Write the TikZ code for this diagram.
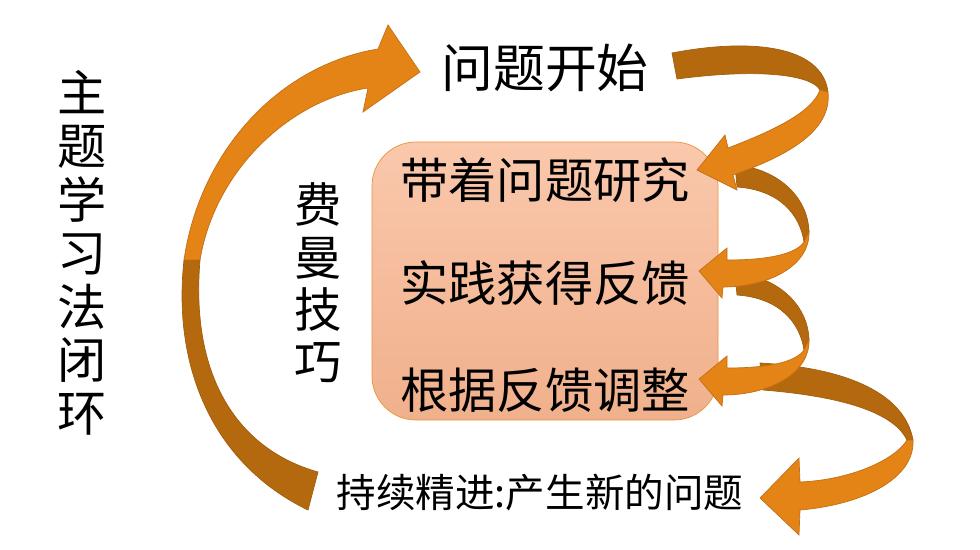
\documentclass[tikz,border=0pt]{standalone}
\usepackage{fontspec}
\setmainfont{Noto Sans CJK SC}
\usetikzlibrary{positioning}
\definecolor{ribbonfront}{RGB}{228,131,22}
\definecolor{ribbonback}{RGB}{180,105,15}
\definecolor{ribbonline}{RGB}{196,112,20}
\definecolor{boxtop}{RGB}{250,200,172}
\definecolor{boxbottom}{RGB}{240,176,140}
\definecolor{boxline}{RGB}{236,146,60}

\tikzset{
  frontband/.style={fill=ribbonfront,draw=ribbonline,line width=0.4pt},
  backband/.style={fill=ribbonback,draw=ribbonback!90!black,line width=0.4pt},
  bigtext/.style={font=\fontsize{27.5}{30}\selectfont},
  tallword/.style={align=center,font=\fontsize{28}{30.4}\selectfont},
}

% one turn of the small loop arrows on the right
\newcommand{\loopdark}[1]{%
  \fill[backband,yshift=#1] (735,165) .. controls (775,168) and (808,195) .. (809,232)
    -- (804,242) .. controls (800,215) and (780,190) .. (737,187) -- cycle;}
\newcommand{\looplight}[1]{%
  \fill[frontband,yshift=#1] (809,232) .. controls (810,265) and (770,287) .. (723,287)
    -- (722,298) -- (699,271) -- (727,248) -- (727,260)
    .. controls (765,260) and (795,255) .. (804,242) -- cycle;}

\begin{document}
\begin{tikzpicture}[x=0.02cm,y=-0.02cm]
\useasboundingbox (0,0) rectangle (980,550);

\node[tallword] (title) at (82,253) {主\\题\\学\\习\\法\\闭\\环};
\node[tallword,font=\fontsize{27}{29.8}\selectfont] (feynman) at (318,283) {费\\曼\\技\\巧};
\node[bigtext,font=\fontsize{29.5}{32}\selectfont] (start) at (545,68) {问题开始};

\shade[top color=boxtop,bottom color=boxbottom,draw=boxline,rounded corners=25pt]
  (372,142) rectangle (718,420);
\node[bigtext] (study) at (545,180) {带着问题研究};
\node[bigtext] (practice) at (545,283) {实践获得反馈};
\node[bigtext] (adjust) at (545,390) {根据反馈调整};
\node[font=\fontsize{22.5}{25}\selectfont] (improve) at (540,493) {持续精进:产生新的问题};

% big arrow on the left, back to the start
\fill[backband] (308,510) .. controls (215,465) and (172,370) .. (184,260)
  -- (200,260) .. controls (190,380) and (240,450) .. (318,472) -- cycle;
\fill[frontband] (184,260) .. controls (200,150) and (280,65) .. (378,49)
  -- (388,25) -- (420,72) -- (363,112) -- (368,88)
  .. controls (290,100) and (215,170) .. (200,260) -- cycle;

% dark back sides first
\loopdark{0}
\loopdark{-108*0.02cm}
\fill[backband] (760,363) .. controls (850,368) and (905,395) .. (913,440)
  -- (907,440) .. controls (895,415) and (850,397) .. (763,390) -- cycle;

% start -> study
\fill[backband] (672,53) .. controls (750,38) and (822,45) .. (828,92)
  -- (820,90) .. controls (812,75) and (760,68) .. (677,79) -- cycle;
\fill[frontband] (828,92) .. controls (832,130) and (790,155) .. (733,175)
  -- (737,190) -- (697,170) -- (725,135) -- (728,148)
  .. controls (775,130) and (812,112) .. (820,90) -- cycle;

% study -> practice -> adjust
\looplight{0}
\looplight{-108*0.02cm}

% adjust -> improve
\fill[frontband] (913,440) .. controls (915,480) and (860,505) .. (800,510)
  -- (799,535) -- (760,498) -- (799,458) -- (800,482)
  .. controls (850,480) and (895,460) .. (907,440) -- cycle;
\end{tikzpicture}
\end{document}
